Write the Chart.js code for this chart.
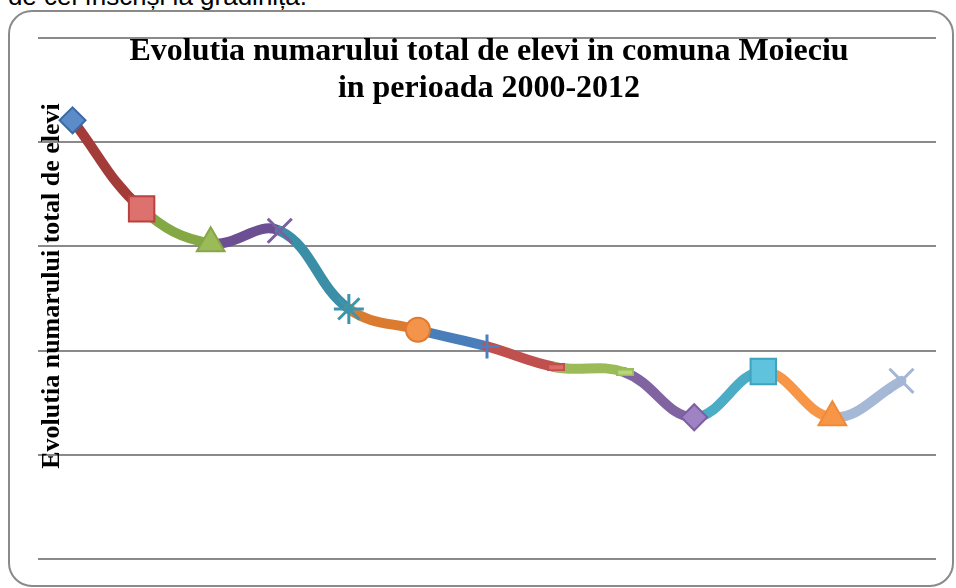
<!DOCTYPE html>
<html>
<head>
<meta charset="utf-8">
<script src="https://cdn.jsdelivr.net/npm/chart.js@4.4.1/dist/chart.umd.min.js"></script>
<style>
  html, body { margin: 0; padding: 0; background: #fff; overflow: hidden; }
  #wrap { position: relative; width: 956px; height: 588px; }
  #sus { position: absolute; left: -8px; top: -19px; font: 26px "Liberation Sans", sans-serif; color: #000; white-space: nowrap; }
  #cadru { position: absolute; left: 8px; top: 10px; width: 942px; height: 573px; border: 2px solid #8a8a8a; border-radius: 24px; background: #fff; }
  canvas { position: absolute; left: 0; top: 0; }
</style>
</head>
<body>
<div id="wrap">
  <div id="sus">r de cei înscriși la grădiniță.</div>
  <div id="cadru"></div>
  <canvas id="grafic" width="956" height="588"></canvas>
</div>
<script>
// Date
const ani = ['2000', '2001', '2002', '2003', '2004', '2005', '2006', '2007', '2008', '2009', '2010', '2011', '2012'];
const elevi = [421, 336, 303, 315, 240, 220, 204, 184, 179, 136, 180, 136, 171];
const titlu = ['Evolutia numarului total de elevi in comuna Moieciu', 'in perioada 2000-2012'];
const titluAxaY = 'Evolutia numarului total de elevi';

// Culori pe puncte (stil Excel "culori variate")
const culoriSegment = ['#4f81bd', '#a33c39', '#84a844', '#6c4f92', '#3a8fa6', '#db7b30', '#4a7ebb', '#c0504d', '#9bbb59', '#8064a2', '#4bacc6', '#f79646', '#a5b8d6'];
const culoriMarker = ['#5b8bc9', '#dc716e', '#9bbb59', '#7b5fa0', '#3a95ad', '#f4934a', '#4a7fc0', '#e06a68', '#b7d77a', '#9f82c4', '#5fc3dd', '#f79646', '#a3b6d5'];
const culoriContur = ['#3d6aa5', '#b8423f', '#86a64a', '#7b5fa0', '#3a95ad', '#e07a2f', '#4a7fc0', '#c0504d', '#9bbb59', '#7c5fa1', '#3fa3bf', '#f08a3a', '#a3b6d5'];
const forme = ['rectRot', 'rect', 'triangle', 'crossRot', 'star', 'circle', 'cross', 'dash', 'dash', 'rectRot', 'rect', 'triangle', 'crossRot'];
const raze = [13, 18, 16, 17, 15, 12, 12, 8, 8, 13, 18, 16, 17];
const grosimi = [2, 2, 2, 3, 3, 2, 3, 2, 2, 2, 2, 2, 3];

// marker "liniuta" ca imagine mica
function liniuta(umplere, contur) {
    const c = document.createElement('canvas');
    c.width = 18;
    c.height = 8;
    const g = c.getContext('2d');
    g.fillStyle = contur;
    g.fillRect(0, 0, 18, 8);
    g.fillStyle = umplere;
    g.fillRect(2, 2, 14, 4);
    return c;
}
const stiluri = forme.map((f, i) => f === 'dash' ? liniuta(culoriMarker[i], culoriContur[i]) : f);

// Titlul si eticheta axei Y, desenate peste zona graficului
const textePlugin = {
    id: 'texte',
    beforeDatasetsDraw(chart) {
        const ctx = chart.ctx;
        ctx.save();
        ctx.translate(52, 286);
        ctx.rotate(-Math.PI / 2);
        ctx.font = 'bold 26px "Liberation Serif", serif';
        ctx.fillStyle = '#000';
        ctx.textAlign = 'center';
        ctx.textBaseline = 'middle';
        ctx.fillText(titluAxaY, 0, 0);
        ctx.restore();
    },
    afterDraw(chart) {
        const ctx = chart.ctx;
        ctx.save();
        ctx.font = 'bold 32px "Liberation Serif", serif';
        ctx.fillStyle = '#000';
        ctx.textAlign = 'center';
        ctx.textBaseline = 'alphabetic';
        ctx.fillText(titlu[0], 489, 60);
        ctx.fillText(titlu[1], 489, 97);
        ctx.restore();
    }
};

const ctx = document.getElementById('grafic').getContext('2d');
const chart = new Chart(ctx, {
    type: 'line',
    data: {
        labels: ani,
        datasets: [{
            label: 'Elevi',
            data: elevi,
            borderWidth: 10,
            tension: 0.4,
            borderCapStyle: 'round',
            segment: {
                borderColor: c => culoriSegment[c.p1DataIndex],
                borderWidth: 10
            },
            pointStyle: stiluri,
            pointRadius: raze,
            pointHoverRadius: raze,
            pointBackgroundColor: culoriMarker,
            pointBorderColor: culoriContur,
            pointBorderWidth: grosimi
        }]
    },
    options: {
        responsive: false,
        animation: false,
        layout: { padding: { left: 38, right: 18, top: 38, bottom: 29 } },
        plugins: {
            legend: { display: false },
            tooltip: { enabled: false },
            title: { display: false }
        },
        scales: {
            x: {
                display: false,
                offset: true
            },
            y: {
                min: 0,
                max: 500,
                ticks: { display: false, stepSize: 100 },
                border: { display: false },
                grid: { color: '#8a8a8a', lineWidth: 2, drawTicks: false }
            }
        }
    },
    plugins: [textePlugin]
});
</script>
</body>
</html>
